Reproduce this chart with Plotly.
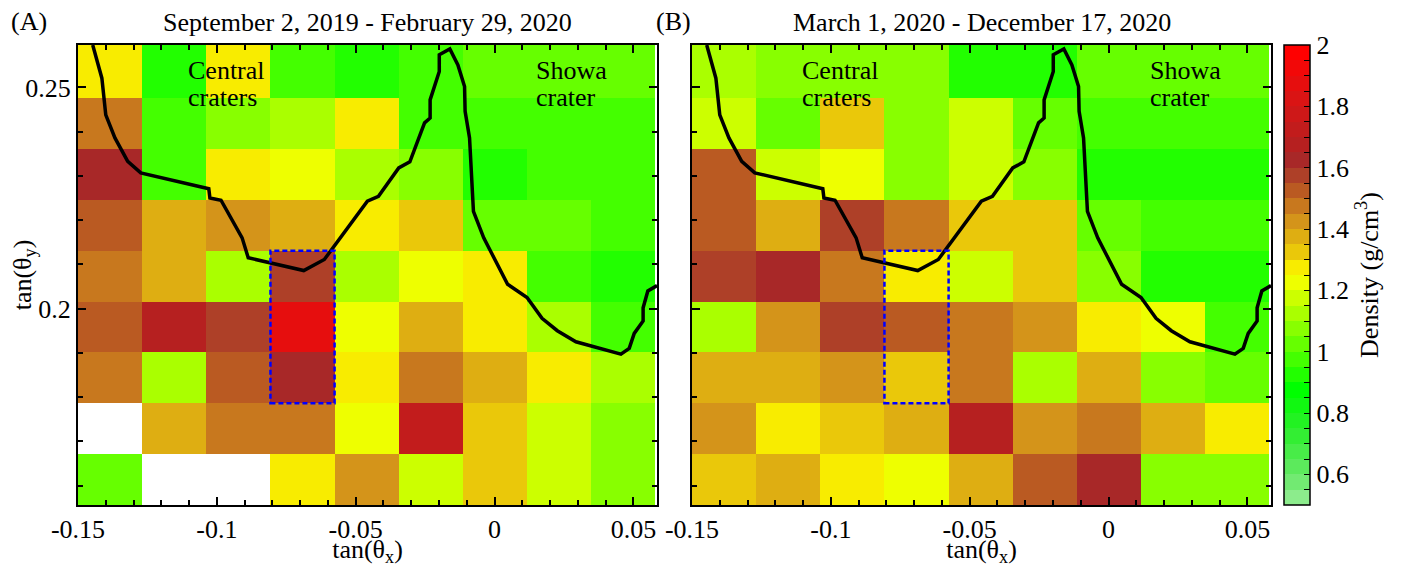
import numpy as np
import plotly.graph_objects as go

# ---------------- data ----------------
x_edges = [-0.15, -0.1269, -0.1038, -0.0807, -0.0576, -0.0345, -0.0114, 0.0117, 0.0348, 0.0579]
y_edges = [0.1556, 0.1671, 0.1786, 0.1901, 0.2016, 0.2131, 0.2246, 0.2361, 0.2476, 0.2596]

nan = None
# rows listed top (high tan(theta_y)) to bottom
density_A = [
    [1.27, 0.93, 1.27, 0.97, 0.92, 0.96, 1.02, 1.04, 1.02],
    [1.47, 0.97, 1.07, 1.12, 1.27, 0.97, 0.98, 0.98, 0.98],
    [1.62, 0.96, 1.27, 1.22, 1.12, 1.07, 0.93, 0.96, 0.96],
    [1.52, 1.37, 1.42, 1.37, 1.27, 1.32, 1.02, 1.02, 0.98],
    [1.47, 1.37, 1.12, 1.57, 1.12, 1.22, 1.27, 0.96, 0.93],
    [1.52, 1.69, 1.57, 1.88, 1.22, 1.37, 1.27, 1.12, 0.96],
    [1.47, 1.12, 1.52, 1.62, 1.27, 1.47, 1.37, 1.27, 1.12],
    [nan,  1.37, 1.47, 1.47, 1.22, 1.73, 1.32, 1.17, 1.08],
    [1.02, nan,  nan,  1.27, 1.42, 1.17, 1.32, 1.17, 1.08],
]
density_B = [
    [1.14, 1.07, 1.07, 1.08, 0.92, 0.93, 1.02, 1.04, 1.02],
    [1.17, 1.04, 1.32, 1.07, 1.17, 1.02, 0.96, 0.96, 0.96],
    [1.52, 1.17, 1.22, 1.07, 1.17, 1.07, 0.93, 0.91, 0.91],
    [1.52, 1.37, 1.57, 1.47, 1.32, 1.32, 1.02, 0.98, 0.98],
    [1.57, 1.62, 1.47, 1.27, 1.17, 1.32, 1.08, 0.93, 0.91],
    [1.12, 1.42, 1.57, 1.52, 1.47, 1.42, 1.27, 1.22, 0.98],
    [1.37, 1.37, 1.42, 1.32, 1.47, 1.12, 1.37, 1.07, 1.02],
    [1.42, 1.27, 1.32, 1.37, 1.69, 1.42, 1.47, 1.37, 1.27],
    [1.32, 1.37, 1.27, 1.22, 1.37, 1.52, 1.62, 1.08, 1.08],
]

# crater rim outline
rim_x = [-0.1447, -0.1414, -0.1400, -0.1367, -0.1321, -0.1274, -0.1029, -0.1025, -0.0985,
         -0.0909, -0.0887, -0.0687, -0.0613, -0.0458, -0.0418, -0.0345, -0.0305, -0.0252,
         -0.0232, -0.0232, -0.0199, -0.0199, -0.0161, -0.0132, -0.0108, -0.0106, -0.0090,
         -0.0076, -0.0039, 0.0047, 0.0117, 0.0171, 0.0226, 0.0293, 0.0455, 0.0485, 0.0503,
         0.0535, 0.0535, 0.0552, 0.0585]
rim_y = [0.2596, 0.2521, 0.2438, 0.2386, 0.2333, 0.2307, 0.2271, 0.2250, 0.2245,
         0.2160, 0.2115, 0.2086, 0.2111, 0.2243, 0.2254, 0.2318, 0.2332, 0.2420,
         0.2431, 0.2472, 0.2536, 0.2574, 0.2587, 0.2551, 0.2502, 0.2446, 0.2386,
         0.2220, 0.2160, 0.2055, 0.2025, 0.1978, 0.1950, 0.1925, 0.1897, 0.1910, 0.1944,
         0.1972, 0.2002, 0.2040, 0.2052]

box_x = [-0.0807, -0.0576]
box_y = [0.1786, 0.2131]

titles = ["September 2, 2019 - February 29, 2020", "March 1, 2020 - December 17, 2020"]
panel_tags = ["(A)", "(B)"]
region_labels = [("Central", "craters", -0.111), ("Showa", "crater", 0.0142)]

x_tickvals = [-0.15, -0.1, -0.05, 0, 0.05]
x_ticktext = ["-0.15", "-0.1", "-0.05", "0", "0.05"]
y_tickvals = [0.2, 0.25]
y_ticktext = ["0.2", "0.25"]

cb_min, cb_max = 0.5, 2.0
cb_tickvals = [round(0.5 + 0.05 * i, 2) for i in range(31)]
cb_labels = {0.6: "0.6", 0.8: "0.8", 1.0: "1", 1.2: "1.2", 1.4: "1.4", 1.6: "1.6", 1.8: "1.8", 2.0: "2"}

# ---------------- style ----------------
band_colors = [  # bottom (0.5) to top (2.0), 30 bands
    "#8CEC8C", "#72EA72", "#5CEA5C", "#48EC48", "#33EE33", "#22F222", "#11F811", "#00FF00",
    "#22FF00", "#44FF00", "#66FF00", "#88FF00", "#AAFF00", "#CCFF00", "#EEFF00", "#F8EC00",
    "#EAC80A", "#DEAE12", "#D4941A", "#C8781E", "#BA5A22", "#AE4028", "#A82828", "#B62020",
    "#C21C1C", "#CE1818", "#DA1414", "#E60E0E", "#F20808", "#FF0000",
]
n = len(band_colors)
colorscale = []
for i, c in enumerate(band_colors):
    colorscale.append([i / n, c])
    colorscale.append([(i + 1) / n, c])

FONT = "Liberation Serif"
FS = 26
OFF = 8                      # default page body margin
W, H = 1406 - OFF, 567 - OFF
def px_x(p): return (p - OFF) / W
def px_y(p): return 1 - (p - OFF) / H

domA = [px_x(78), px_x(657)]
domB = [px_x(692), px_x(1271)]
domY = [px_y(505), px_y(45)]

fig = go.Figure()

def flip(rows):
    return [[(v if v is not None else np.nan) for v in r] for r in rows[::-1]]

for k, (dens, xa, ya) in enumerate([(density_A, "x", "y"), (density_B, "x2", "y2")]):
    fig.add_trace(go.Heatmap(
        x=x_edges, y=y_edges, z=flip(dens), coloraxis="coloraxis",
        xaxis=xa, yaxis=ya, hoverongaps=False))
    fig.add_trace(go.Scatter(
        x=rim_x, y=rim_y, mode="lines", line=dict(color="black", width=3.5),
        xaxis=xa, yaxis=ya, showlegend=False, hoverinfo="skip"))
    fig.add_shape(type="rect", xref=xa, yref=ya, x0=box_x[0], x1=box_x[1],
                  y0=box_y[0], y1=box_y[1],
                  line=dict(color="#0000FF", width=2.5, dash="5px,3px"))
    for l1, l2, xl in region_labels:
        for txt, py in [(l1, 71), (l2, 97)]:
            fig.add_annotation(xref=xa, yref="paper", x=xl, y=px_y(py), text=txt,
                               showarrow=False, xanchor="left", yanchor="middle",
                               font=dict(family=FONT, size=FS, color="black"))

axis_common = dict(showline=True, linecolor="black", linewidth=2, mirror="allticks",
                   ticks="inside", ticklen=8, tickwidth=1.5, tickcolor="black",
                   showgrid=False, zeroline=False, automargin=False,
                   tickfont=dict(family=FONT, size=FS, color="black"))

xax = dict(axis_common, range=[-0.15, 0.0585], tickvals=x_tickvals, ticktext=x_ticktext,
           minor=dict(dtick=0.01, tick0=0, ticks="inside", ticklen=5, tickcolor="black", showgrid=False),
           title=dict(text="tan(θ<sub>x</sub>)", font=dict(family=FONT, size=FS, color="black"), standoff=0))
yax = dict(axis_common, range=[0.1556, 0.2596], tickvals=y_tickvals,
           minor=dict(dtick=0.01, tick0=0, ticks="inside", ticklen=5, tickcolor="black", showgrid=False))

fig.update_layout(
    width=W, height=H, margin=dict(l=0, r=0, t=0, b=0, autoexpand=False),
    paper_bgcolor="white", plot_bgcolor="white", showlegend=False,
    font=dict(family=FONT, size=FS, color="black"),
    xaxis=dict(xax, domain=domA, anchor="y"),
    yaxis=dict(yax, domain=domY, anchor="x", ticktext=y_ticktext,
               title=dict(text="tan(θ<sub>y</sub>)", font=dict(family=FONT, size=FS, color="black"), standoff=2)),
    xaxis2=dict(xax, domain=domB, anchor="y2"),
    yaxis2=dict(yax, domain=domY, anchor="x2", showticklabels=False),
    coloraxis=dict(
        colorscale=colorscale, cmin=cb_min, cmax=cb_max,
        colorbar=dict(
            x=px_x(1284), xanchor="left", xpad=0, ypad=0,
            y=(domY[0] + domY[1]) / 2, yanchor="middle", len=domY[1] - domY[0], lenmode="fraction",
            thickness=26, outlinewidth=1.5, outlinecolor="black",
            ticks="inside", ticklen=6, tickcolor="black", tickwidth=1.2,
            tickvals=cb_tickvals,
            ticktext=[cb_labels.get(round(v, 2), "") for v in cb_tickvals],
            tickfont=dict(family=FONT, size=FS, color="black"),
            title=dict(text="Density (g/cm<sup>3</sup>)", side="right",
                       font=dict(family=FONT, size=FS, color="black")),
        ),
    ),
)

for t, dom in zip(titles, [domA, domB]):
    fig.add_annotation(xref="paper", yref="paper", x=(dom[0] + dom[1]) / 2, y=px_y(22),
                       text=t, showarrow=False, xanchor="center", yanchor="middle",
                       font=dict(family=FONT, size=FS, color="black"))
for t, xp in zip(panel_tags, [9, 654]):
    fig.add_annotation(xref="paper", yref="paper", x=px_x(xp), y=px_y(21),
                       text=t, showarrow=False, xanchor="left", yanchor="middle",
                       font=dict(family=FONT, size=FS, color="black"))

fig.write_html("out.html")
